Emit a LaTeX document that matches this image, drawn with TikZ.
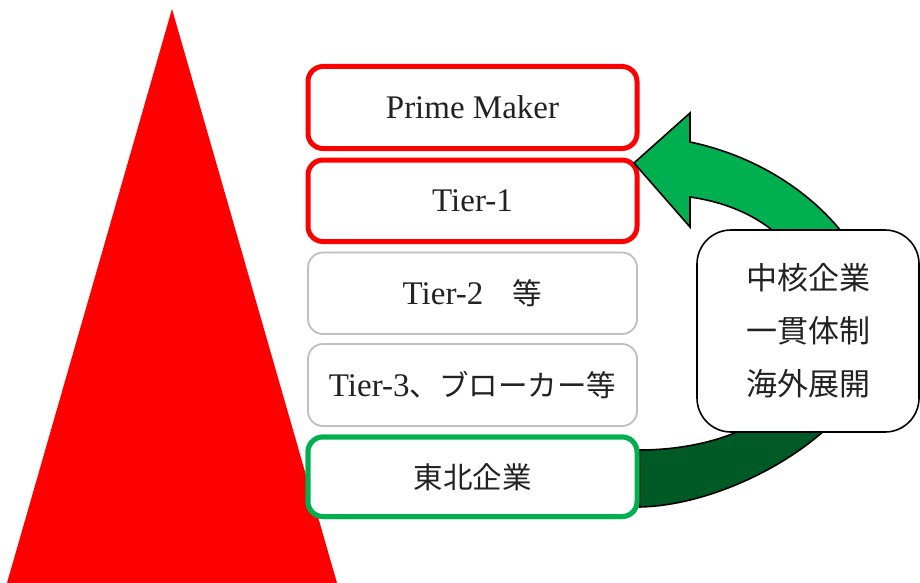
\documentclass[tikz,border=0pt]{standalone}
\usepackage{fontspec}
\setmainfont{Liberation Serif}
\newfontfamily\jp{Noto Sans CJK JP}
\newcommand\jpt{\jp\fontsize{29.5}{34}\selectfont}
\definecolor{tired}{HTML}{FF0000}
\definecolor{lgreen}{HTML}{00B050}
\definecolor{dgreen}{HTML}{005A26}
\definecolor{gbox}{HTML}{BFBFBF}
\definecolor{txt}{HTML}{222222}
\begin{document}
\begin{tikzpicture}[x=1pt,y=-1pt,
  tierbox/.style={rectangle, rounded corners=15pt, fill=white, minimum width=329pt,
    text=txt, font=\fontsize{33}{38}\selectfont, inner sep=0pt},
  redtier/.style={tierbox, draw=tired, line width=5pt},
  graytier/.style={tierbox, draw=gbox, line width=1.8pt},
  greentier/.style={tierbox, draw=lgreen, line width=5pt},
  arrowline/.style={draw=black, line width=1.6pt, line join=miter},
  callout/.style={rectangle, rounded corners=34pt, draw=black, line width=1.6pt, fill=white,
    minimum width=222pt, minimum height=202pt, text=txt, align=center,
    font=\jp\fontsize{31}{53}\selectfont}
]
\useasboundingbox (0,0) rectangle (920,583);
% red pyramid
\fill[tired] (172,9) -- (337,583) -- (7,583) -- cycle;

% tier boxes
\node[redtier, minimum height=82pt] (pm) at (472.5,107.5) {Prime Maker};
\node[redtier, minimum height=81.5pt] (t1) at (472.5,200.75) {Tier-1};
\node[graytier, minimum height=81.5pt] (t2) at (472.5,293.25) {Tier-2{\jpt\quad 等}};
\node[graytier, minimum height=82pt] (t3) at (472.5,385) {Tier-3{\jpt 、ブローカー等}};
\node[greentier, minimum height=79.5pt] (tk) at (472.5,476.75) {{\jpt 東北企業}};

% curved block arrow from tk to t1
\coordinate (tip) at (634,163);
\def\arrowpath{(tk.east |- 0,507) .. controls (740,505) and (880,420) .. (880,330)
   .. controls (880,250) and (800,165) .. (690,142)
   -- (690,113) -- (tip) -- (690,227) -- (690,197)
   .. controls (780,210) and (820,270) .. (820,330)
   .. controls (820,400) and (740,450) .. (tk.east |- 0,450) -- cycle}
\begin{scope}
  \clip (600,330) rectangle (920,583);
  \fill[dgreen] \arrowpath;
\end{scope}
\begin{scope}
  \clip (600,0) rectangle (920,330);
  \fill[lgreen] \arrowpath;
\end{scope}
\path[arrowline] \arrowpath;
% redraw the boxes over the arrow's left end
\node[greentier, minimum height=79.5pt] at (tk) {{\jpt 東北企業}};

% callout
\node[callout] (co) at (808,331) {中核企業\\一貫体制\\海外展開};
\end{tikzpicture}
\end{document}
